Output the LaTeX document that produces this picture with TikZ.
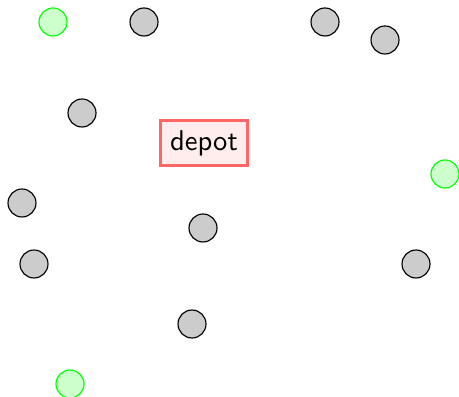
\documentclass[tikz,border=0pt]{standalone}
\begin{document}
\begin{tikzpicture}[x=0.35pt,y=-0.35pt,
  cust/.style={circle,draw=black,fill=black!20,line width=0.4pt,minimum size=9.8pt,inner sep=0pt},
  gcust/.style={circle,draw=green,fill=green!20,line width=0.4pt,minimum size=9.8pt,inner sep=0pt},
  depotbox/.style={draw=red!60,fill=red!7,line width=1pt,font=\sffamily}]
\useasboundingbox (0,0) rectangle (459,397);
\node[gcust] (g1) at (53,22) {};
\node[gcust] (g2) at (445,174) {};
\node[gcust] (g3) at (70,384) {};
\node[cust] (c1) at (144,22) {};
\node[cust] (c2) at (325,22) {};
\node[cust] (c3) at (385,40) {};
\node[cust] (c4) at (82,113) {};
\node[cust] (c5) at (22,203) {};
\node[cust] (c6) at (203,228) {};
\node[cust] (c7) at (34,264) {};
\node[cust] (c8) at (416,264) {};
\node[cust] (c9) at (192,324) {};
\node[depotbox] (d) at (204,143) {depot};
\end{tikzpicture}
\end{document}
